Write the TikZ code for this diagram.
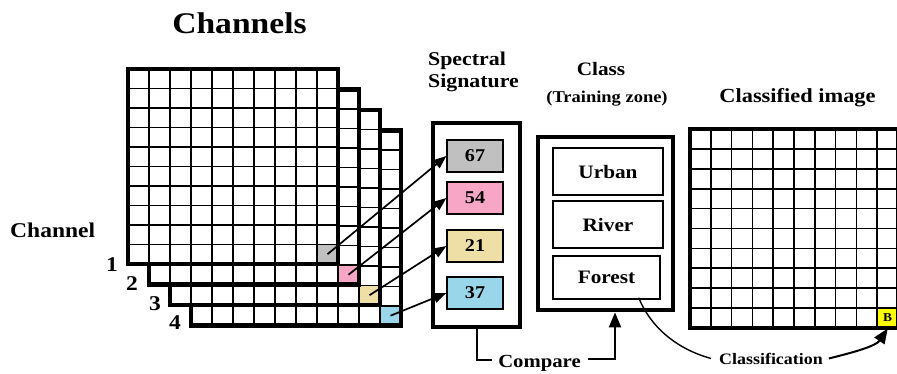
\documentclass[tikz,border=0pt]{standalone}
\usepackage{fontspec}
\setmainfont{Liberation Serif}[FakeStretch=1.12]
\usetikzlibrary{arrows.meta}
\definecolor{sgray}{HTML}{C0C0C0}
\definecolor{spink}{HTML}{F7A6C6}
\definecolor{sbeige}{HTML}{EEDFA6}
\definecolor{sblue}{HTML}{9AD6EA}
\definecolor{syellow}{HTML}{FFFF00}
\begin{document}
\begin{tikzpicture}[x=1pt,y=-1pt,
  gridline/.style={line width=1.7pt},
  frame/.style={line width=4.8pt},
  lbl/.style={font=\bfseries\fontsize{#1}{#1}\selectfont, inner sep=0pt},
  valbox/.style={draw, line width=1.3pt, minimum width=56pt, minimum height=32pt, inner sep=0pt, font=\bfseries\fontsize{18}{18}\selectfont},
  catbox/.style={draw, line width=1.3pt, minimum width=110pt, minimum height=47pt, inner sep=0pt, font=\bfseries\fontsize{19}{19}\selectfont},
  sig/.style={line width=1.7pt, -{Triangle[length=13pt,width=10pt]}},
  cmpline/.style={line width=2pt},
  bigarr/.style={line width=2pt, -{Triangle[length=15pt,width=12pt]}}
]
\useasboundingbox (0,0) rectangle (897,373);
\fill[white] (0,0) rectangle (897,373);

% channel stacks
\foreach \k/\col in {3/sblue,2/sbeige,1/spink,0/sgray}{
  \begin{scope}[shift={(21*\k,20.5*\k)}]
    \fill[white] (128,69) rectangle (338,264);
    \fill[\col] (317,244.5) rectangle (338,264);
    \foreach \i in {1,...,9} \draw[gridline] (128+21*\i,69) -- (128+21*\i,264);
    \foreach \j in {1,...,9} \draw[gridline] (128,69+19.5*\j) -- (338,69+19.5*\j);
    \draw[frame] (128,69) rectangle (338,264);
  \end{scope}}
\coordinate (c1) at (327.5,254.2);
\coordinate (c2) at (348.5,274.7);
\coordinate (c3) at (369.5,295.2);
\coordinate (c4) at (390.5,315.7);

% labels
\node[lbl=30, anchor=base] (hch) at (239.5,33) {Channels};
\node[lbl=21, anchor=base west] (lch) at (10,237) {Channel};
\node[lbl=21] (n1) at (112,265) {1};
\node[lbl=21] (n2) at (132,284) {2};
\node[lbl=21] (n3) at (155,304) {3};
\node[lbl=21] (n4) at (175,323) {4};

% spectral signature
\node[lbl=19.5, anchor=base west] (hsp1) at (428,65) {Spectral};
\node[lbl=19.5, anchor=base west] (hsp2) at (428,87) {Signature};
\node[draw, frame, minimum width=87pt, minimum height=204pt, inner sep=0pt] (spec) at (476.5,225) {};
\node[valbox, fill=sgray] (v1) at (475,156) {67};
\node[valbox, fill=spink] (v2) at (475,198) {54};
\node[valbox, fill=sbeige] (v3) at (475,246) {21};
\node[valbox, fill=sblue] (v4) at (475,293) {37};
\draw[sig] (c1) -- (v1.west);
\draw[sig] (c2) -- (v2.west);
\draw[sig] (c3) -- (v3.west);
\draw[sig] (c4) -- (v4.west);

% class
\node[lbl=19, anchor=base] (hcl) at (601,75) {Class};
\node[lbl=16.5, anchor=base] (htz) at (607,102) {(Training zone)};
\node[draw, frame, minimum width=135pt, minimum height=173pt, inner sep=0pt] (cls) at (605.5,223.5) {};
\node[catbox] (urban) at (608,171.5) {Urban};
\node[catbox] (river) at (608,224.5) {River};
\node[catbox, minimum width=107pt, minimum height=43pt] (forest) at (606.5,277.5) {Forest};

% compare
\node[lbl=18.5, anchor=base] (cmp) at (539.5,367.5) {Compare};
\coordinate (cl) at (492,360);
\coordinate (cr) at (588,359);
\draw[cmpline] (spec.south) |- (cl);
\draw[bigarr] (cr) -| ([xshift=9.5pt]cls.south);

% classified image
\node[lbl=20, anchor=base] (hci) at (797.5,102) {Classified image};
\fill[white] (690,129) rectangle (898,328);
\foreach \i in {1,...,9} \draw[gridline] (690+20.8*\i,129) -- (690+20.8*\i,328);
\foreach \j in {1,...,9} \draw[gridline] (690,129+19.9*\j) -- (898,129+19.9*\j);
\node[draw, line width=1pt, fill=syellow, minimum width=20.8pt, minimum height=19.9pt, inner sep=0pt, font=\bfseries\fontsize{12}{12}\selectfont] (bcell) at (887.6,318.05) {B};
\draw[frame] (690,129) rectangle (898,328);

% classification
\node[lbl=16, anchor=base] (ctxt) at (771,364) {Classification};
\draw[line width=1.4pt] ([xshift=-22pt,yshift=2pt]forest.south east) .. controls (652,330) and (680,350) .. ([xshift=-8pt]ctxt.west);
\draw[bigarr] ([xshift=6pt]ctxt.east) .. controls (855,352) and (876,346) .. ([xshift=11pt]bcell.south west);
\end{tikzpicture}
\end{document}
